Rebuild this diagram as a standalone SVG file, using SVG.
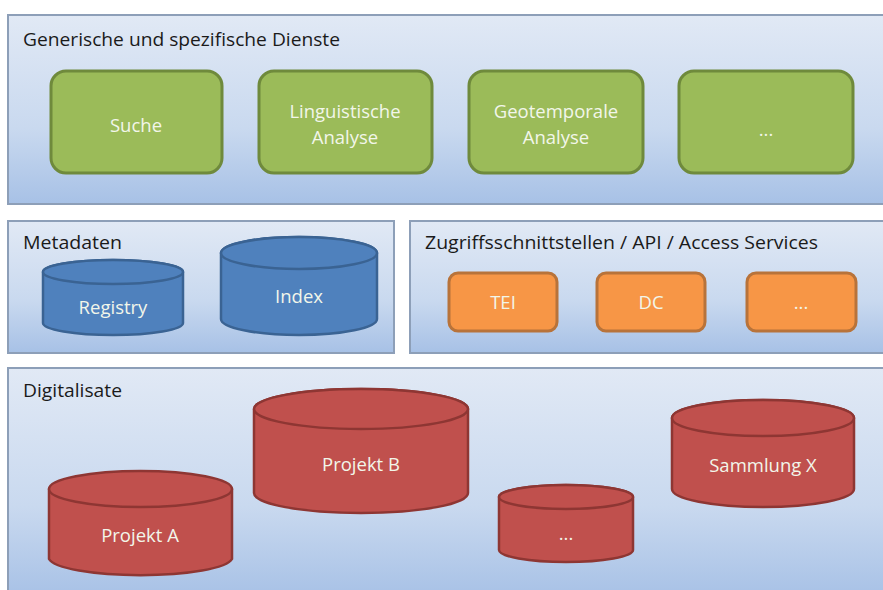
<svg xmlns="http://www.w3.org/2000/svg" width="883" height="590" viewBox="0 0 883 590">
<defs>
<linearGradient id="pg" x1="0" y1="0" x2="0" y2="1">
<stop offset="0" stop-color="#e1e9f5"/>
<stop offset="0.6" stop-color="#c9d9ef"/>
<stop offset="1" stop-color="#a7c1e6"/>
</linearGradient>
<style>
.panel{fill:url(#pg);stroke:#8d9fb8;stroke-width:2}
.title{font-family:"Open Sans","Liberation Sans",sans-serif;font-size:18.5px;fill:#1a1a1a}
.lbl{font-family:"Open Sans","Liberation Sans",sans-serif;font-size:18.5px;fill:#f2f6ea;text-anchor:middle}
.green{fill:#9bbb59;stroke:#6f8a3c;stroke-width:3}
.orange{fill:#f79646;stroke:#b8733a;stroke-width:3}
.blue{fill:#4f81bd;stroke:#3a6393;stroke-width:2.5}
.red{fill:#c0504d;stroke:#8e3633;stroke-width:2.5}
</style>
</defs>
<rect width="883" height="590" fill="#ffffff"/>
<g id="panel-dienste">
<rect class="panel" x="8" y="15" width="880" height="189"/>
<text class="title" x="23" y="46" textLength="317" lengthAdjust="spacingAndGlyphs">Generische und spezifische Dienste</text>
</g>
<g id="panel-metadaten">
<rect class="panel" x="8" y="221" width="386" height="132"/>
<text class="title" x="23" y="249" textLength="99" lengthAdjust="spacingAndGlyphs">Metadaten</text>
</g>
<g id="panel-zugriff">
<rect class="panel" x="410" y="221" width="478" height="132"/>
<text class="title" x="425" y="249" textLength="393" lengthAdjust="spacingAndGlyphs">Zugriffsschnittstellen / API / Access Services</text>
</g>
<g id="panel-digitalisate">
<rect class="panel" x="8" y="368" width="880" height="230"/>
<text class="title" x="23" y="397" textLength="99" lengthAdjust="spacingAndGlyphs">Digitalisate</text>
</g>
<g id="suche">
<rect class="green" x="51" y="71" width="171" height="102" rx="15"/>
<text class="lbl" x="136" y="132">Suche</text>
</g>
<g id="linguistische">
<rect class="green" x="259" y="71" width="173" height="102" rx="15"/>
<text class="lbl" x="345" y="118">Linguistische</text>
<text class="lbl" x="345" y="144">Analyse</text>
</g>
<g id="geotemporale">
<rect class="green" x="469" y="71" width="174" height="102" rx="15"/>
<text class="lbl" x="556" y="118">Geotemporale</text>
<text class="lbl" x="556" y="144">Analyse</text>
</g>
<g id="dienste-more">
<rect class="green" x="679" y="71" width="174" height="102" rx="15"/>
<text class="lbl" x="766" y="136">...</text>
</g>
<g id="registry">
<path class="blue" d="M43,272 v51 a70,12 0 0 0 140,0 v-51 a70,12 0 0 0 -140,0 z"/>
<ellipse class="blue" cx="113" cy="272" rx="70" ry="12"/>
<text class="lbl" x="113" y="314">Registry</text>
</g>
<g id="index">
<path class="blue" d="M221,253 v66 a78,16 0 0 0 156,0 v-66 a78,16 0 0 0 -156,0 z"/>
<ellipse class="blue" cx="299" cy="253" rx="78" ry="16"/>
<text class="lbl" x="299" y="303">Index</text>
</g>
<g id="tei">
<rect class="orange" x="449" y="273" width="108" height="58" rx="9"/>
<text class="lbl" x="503" y="309">TEI</text>
</g>
<g id="dc">
<rect class="orange" x="597" y="273" width="108" height="58" rx="9"/>
<text class="lbl" x="651" y="309">DC</text>
</g>
<g id="access-more">
<rect class="orange" x="747" y="273" width="109" height="58" rx="9"/>
<text class="lbl" x="801" y="309">...</text>
</g>
<g id="projekt-a">
<path class="red" d="M49,489 v70 a92,18 0 0 0 183,0 v-70 a92,18 0 0 0 -183,0 z"/>
<ellipse class="red" cx="140.5" cy="489" rx="91.5" ry="18"/>
<text class="lbl" x="140" y="542">Projekt A</text>
</g>
<g id="projekt-b">
<path class="red" d="M254,409 v84 a107,20 0 0 0 214,0 v-84 a107,20 0 0 0 -214,0 z"/>
<ellipse class="red" cx="361" cy="409" rx="107" ry="20"/>
<text class="lbl" x="361" y="471">Projekt B</text>
</g>
<g id="digitalisate-more">
<path class="red" d="M499,497 v53 a67,12 0 0 0 134,0 v-53 a67,12 0 0 0 -134,0 z"/>
<ellipse class="red" cx="566" cy="497" rx="67" ry="12"/>
<text class="lbl" x="566" y="540">...</text>
</g>
<g id="sammlung-x">
<path class="red" d="M672,418 v71 a91,18 0 0 0 182,0 v-71 a91,18 0 0 0 -182,0 z"/>
<ellipse class="red" cx="763" cy="418" rx="91" ry="18"/>
<text class="lbl" x="763" y="472">Sammlung X</text>
</g>
<g id="connectors"></g>
</svg>
